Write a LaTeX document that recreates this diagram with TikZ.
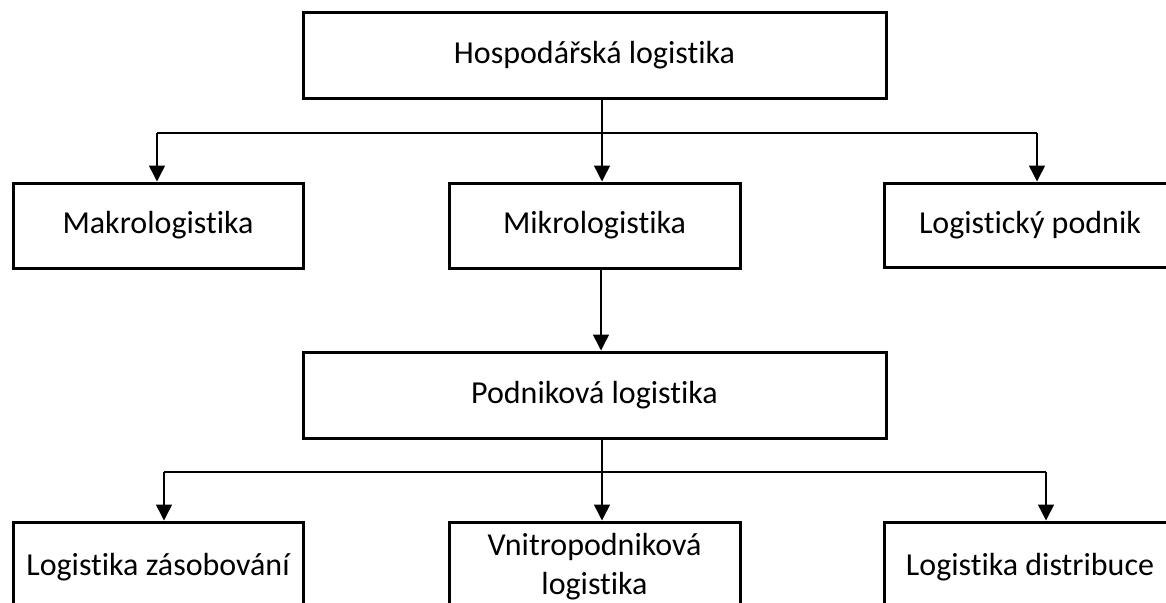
\documentclass[tikz,border=0pt]{standalone}
\usepackage{fontspec}
\setmainfont{Carlito}[Ligatures=NoCommon]
\usetikzlibrary{arrows.meta}
\begin{document}
\begin{tikzpicture}[x=1pt,y=-1pt,
  box/.style={draw=black,line width=3pt,rectangle,inner sep=0pt,align=center,
    font=\fontsize{32}{39}\selectfont},
  conn/.style={draw=black,line width=1.5pt},
  arr/.style={conn,-{Triangle[width=16pt,length=16pt]}}]
\clip (0,0) rectangle (1166,602);
\fill[white] (0,0) rectangle (1166,602);
% nodes
\node[box,minimum width=583pt,minimum height=85pt] (hosp) at (594.5,55.5) {Hospodářská logistika};
\node[box,minimum width=290pt,minimum height=85pt] (makro) at (158,225.5) {Makrologistika};
\node[box,minimum width=291pt,minimum height=85pt] (mikro) at (594.5,225.5) {Mikrologistika};
\node[box,minimum width=291pt,minimum height=84pt] (lpod) at (1030,225) {Logistický podnik};
\node[box,minimum width=583pt,minimum height=86pt] (podn) at (594.5,395) {Podniková logistika};
\node[box,minimum width=290pt,minimum height=90pt] (zas) at (158,567) {Logistika zásobování};
\node[box,minimum width=291pt,minimum height=90pt] (vnitro) at (594.5,567) {Vnitropodniková\\logistika};
\node[box,minimum width=291pt,minimum height=90pt] (distr) at (1030,567) {Logistika distribuce};
% upper bus
\coordinate (b1) at (602,133);
\coordinate (b1l) at (157,133);
\coordinate (b1r) at (1037,133);
\draw[conn] (hosp.south -| b1) -- (b1);
\draw[conn] (b1l) -- (b1r);
\draw[arr] (b1l) -- (makro.north -| b1l);
\draw[arr] (b1) -- (mikro.north -| b1);
\draw[arr] (b1r) -- (lpod.north -| b1r);
% mikro to podnikova
\coordinate (m1) at (601,300);
\draw[arr] (mikro.south -| m1) -- (podn.north -| m1);
% lower bus
\coordinate (b2) at (602,472);
\coordinate (b2l) at (164,472);
\coordinate (b2r) at (1046,472);
\draw[conn] (podn.south -| b2) -- (b2);
\draw[conn] (b2l) -- (b2r);
\draw[arr] (b2l) -- (zas.north -| b2l);
\draw[arr] (b2) -- (vnitro.north -| b2);
\draw[arr] (b2r) -- (distr.north -| b2r);
\end{tikzpicture}
\end{document}
